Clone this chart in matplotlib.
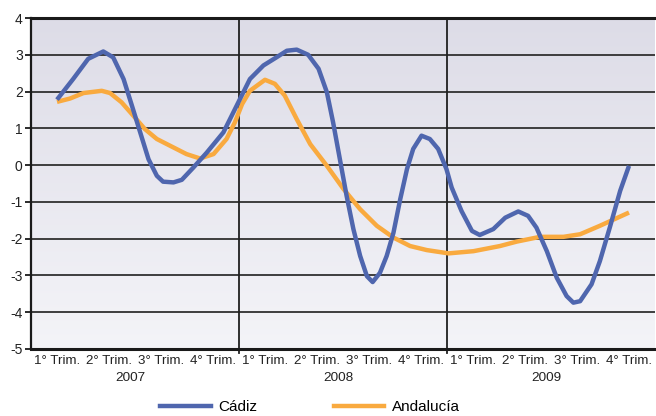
import numpy as np
import matplotlib.pyplot as plt
from matplotlib.lines import Line2D

plt.rcParams["font.family"] = ["Liberation Sans", "DejaVu Sans"]

# Categories (quarters) and years
quarters = ["1° Trim.", "2° Trim.", "3° Trim.", "4° Trim."] * 3
years = ["2007", "2008", "2009"]

# Cádiz: positions along the quarter axis (0 = 1° Trim. 2007) and values
cadiz_x = [0.0, 0.31, 0.60, 0.89, 1.08, 1.28, 1.44, 1.60, 1.76, 1.92,
           2.04, 2.24, 2.40, 2.62, 2.88, 3.20, 3.52, 3.71, 3.97, 4.22,
           4.42, 4.61, 4.83, 5.03, 5.19, 5.31, 5.44, 5.57, 5.70, 5.83,
           5.96, 6.07, 6.21, 6.34, 6.47, 6.60, 6.73, 6.85, 7.01, 7.17,
           7.33, 7.49, 7.59, 7.78, 7.98, 8.13, 8.39, 8.62, 8.87, 9.06,
           9.22, 9.42, 9.61, 9.80, 9.93, 10.06, 10.28, 10.44, 10.63, 10.83,
           11.0]
cadiz_v = [1.78, 2.34, 2.89, 3.09, 2.93, 2.34, 1.62, 0.89, 0.16, -0.29,
           -0.45, -0.47, -0.40, -0.07, 0.34, 0.89, 1.80, 2.34, 2.71, 2.93,
           3.11, 3.14, 3.00, 2.62, 1.98, 1.16, 0.16, -0.84, -1.74, -2.47,
           -3.02, -3.18, -2.93, -2.47, -1.84, -0.93, -0.11, 0.44, 0.80, 0.71,
           0.44, -0.11, -0.61, -1.25, -1.79, -1.90, -1.74, -1.43, -1.26, -1.38,
           -1.70, -2.34, -3.06, -3.56, -3.74, -3.70, -3.24, -2.61, -1.70, -0.70,
           -0.02]

# Andalucía
anda_x = [0.0, 0.25, 0.51, 0.86, 1.02, 1.24, 1.47, 1.69, 1.92, 2.17,
          2.49, 2.75, 3.01, 3.26, 3.42, 3.56, 3.71, 4.00, 4.19, 4.38,
          4.61, 4.87, 5.19, 5.51, 5.83, 6.15, 6.47, 6.79, 7.11, 7.53,
          8.01, 8.52, 8.84, 9.29, 9.74, 10.06, 10.44, 11.0]
anda_v = [1.72, 1.81, 1.96, 2.02, 1.96, 1.71, 1.34, 0.98, 0.71, 0.53,
          0.30, 0.18, 0.30, 0.71, 1.16, 1.66, 2.02, 2.32, 2.21, 1.89,
          1.25, 0.57, -0.02, -0.65, -1.20, -1.65, -1.97, -2.20, -2.31, -2.40,
          -2.34, -2.20, -2.08, -1.95, -1.95, -1.88, -1.65, -1.29]

blue = "#4f66ae"
orange = "#f9aa3f"

fig = plt.figure(figsize=(6.56, 4.16), dpi=100)
ax = fig.add_axes([31 / 656, 1 - 349 / 416, 624 / 656, 331 / 416])

# gradient background
grad = np.linspace(0, 1, 256)[:, None]
top = np.array([221, 220, 231]) / 255
bot = np.array([244, 244, 248]) / 255
img = top[None, None, :] * (1 - grad[:, :, None]) + bot[None, None, :] * grad[:, :, None]
ax.imshow(img, extent=[-0.5, 11.5, -5, 4], aspect="auto", zorder=0)

ax.set_xlim(-0.5, 11.5)
ax.set_ylim(-5, 4)

# horizontal grid
for yv in range(-4, 4):
    ax.axhline(yv, color="#303030", lw=1.3, zorder=1)
# year dividers
for xv in [3.5, 7.5]:
    ax.plot([xv, xv], [-5.1, 4], color="#202020", lw=1.3, zorder=1, clip_on=False)

ax.plot(anda_x, anda_v, color=orange, lw=3.2, zorder=3, solid_joinstyle="round",
        solid_capstyle="butt")
ax.plot(cadiz_x, cadiz_v, color=blue, lw=3.2, zorder=4, solid_joinstyle="round",
        solid_capstyle="butt")

for s in ["top", "bottom"]:
    ax.spines[s].set_linewidth(2.2)
    ax.spines[s].set_color("#1a1a1a")
ax.spines["left"].set_linewidth(1.6)
ax.spines["left"].set_color("#1a1a1a")
ax.spines["right"].set_visible(False)

ax.set_yticks(range(-5, 5))
ax.set_yticklabels([str(v) for v in range(-5, 5)], fontsize=10, color="#222222")
ax.tick_params(axis="y", length=4, width=1.3, pad=2, color="#1a1a1a")

ax.set_xticks(range(12))
ax.set_xticklabels(quarters, fontsize=9.6, color="#222222")
ax.tick_params(axis="x", length=0, pad=4)

for i, yr in enumerate(years):
    ax.text(1.42 + 4 * i, -5.78, yr, ha="center", va="center", fontsize=9.7,
            color="#222222")

handles = [Line2D([], [], color=blue, lw=3.2), Line2D([], [], color=orange, lw=3.2)]
fig.legend(handles, ["Cádiz", "Andalucía"], loc="center", ncol=2,
           bbox_to_anchor=(310 / 656, 1 - 407 / 416), frameon=False,
           fontsize=11, handlelength=3.3, handletextpad=0.5, columnspacing=5.0)

fig.savefig("out.png", dpi=100)
